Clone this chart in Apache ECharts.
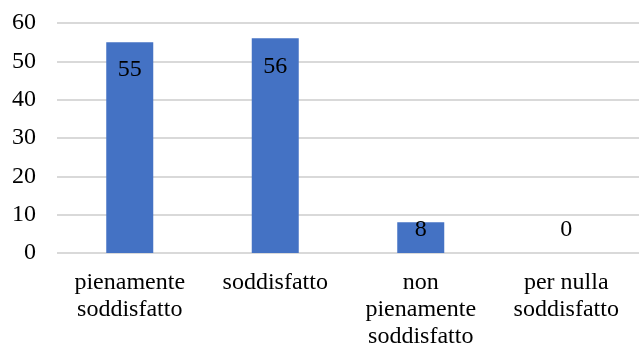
<!DOCTYPE html>
<html>
<head>
<meta charset="utf-8">
<script src="https://cdn.jsdelivr.net/npm/echarts@6/dist/echarts.min.js"></script>
<style>
  html, body { margin: 0; padding: 0; background: #fff; }
  #chart { width: 639px; height: 344px; }
</style>
</head>
<body>
<div id="chart"></div>
<script>
// Livello di soddisfazione: risposte per categoria
const categories = ['pienamente\nsoddisfatto', 'soddisfatto', 'non\npienamente\nsoddisfatto', 'per nulla\nsoddisfatto'];
const values = [55, 56, 8, 0];
const yTicks = { min: 0, max: 60, interval: 10 };

const FONT = '"Liberation Serif", "Times New Roman", serif';

// Etichette: dentro la barra in alto per le barre alte, sopra la base per quelle basse
const barData = values.map(v => ({
  value: v,
  label: v >= 20
    ? { position: 'insideTop', distance: 16 }
    : { position: 'insideBottom', distance: 11 }
}));

const chart = echarts.init(document.getElementById('chart'), null, { renderer: 'canvas' });
chart.setOption({
  animation: false,
  textStyle: { fontFamily: FONT },
  grid: { left: 57, right: 0, top: 23, bottom: 91, containLabel: false, outerBoundsMode: 'none' },
  xAxis: {
    type: 'category',
    data: categories,
    axisLine: { show: false },
    axisTick: { show: false },
    axisLabel: {
      interval: 0,
      color: '#000',
      fontFamily: FONT,
      fontSize: 24,
      lineHeight: 27,
      margin: 16
    }
  },
  yAxis: {
    type: 'value',
    min: yTicks.min,
    max: yTicks.max,
    interval: yTicks.interval,
    axisLine: { show: false },
    axisTick: { show: false },
    splitLine: { lineStyle: { color: '#D9D9D9', width: 2 } },
    axisLabel: { color: '#000', fontFamily: FONT, fontSize: 24, margin: 21 }
  },
  series: [{
    type: 'bar',
    data: barData,
    barWidth: 47,
    itemStyle: { color: '#4472C4' },
    label: {
      show: true,
      color: '#000',
      fontFamily: FONT,
      fontSize: 24,
      lineHeight: 24
    }
  }]
});
</script>
</body>
</html>
